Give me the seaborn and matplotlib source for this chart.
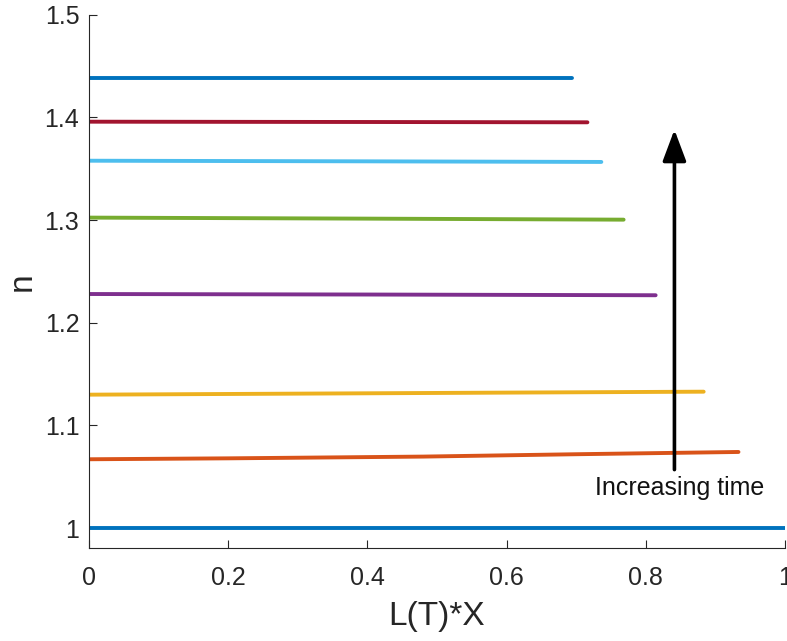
import numpy as np
import pandas as pd
import matplotlib
matplotlib.use("Agg")
import matplotlib.pyplot as plt
import seaborn as sns

# Refractive index profiles n along the normalised length L(T)*X, one per time step
x_t1 = [0.0, 0.25, 0.5, 0.75, 1.0]
n_t1 = [1.000, 1.000, 1.000, 1.000, 1.000]

x_t2 = [0.0, 0.2, 0.48, 0.7, 0.933]
n_t2 = [1.0671, 1.0680, 1.0697, 1.0720, 1.0742]

x_t3 = [0.0, 0.3, 0.6, 0.883]
n_t3 = [1.1300, 1.1310, 1.1320, 1.1329]

x_t4 = [0.0, 0.4, 0.814]
n_t4 = [1.2280, 1.2275, 1.2268]

x_t5 = [0.0, 0.4, 0.768]
n_t5 = [1.3024, 1.3014, 1.3004]

x_t6 = [0.0, 0.4, 0.736]
n_t6 = [1.3578, 1.3572, 1.3566]

x_t7 = [0.0, 0.4, 0.716]
n_t7 = [1.3958, 1.3955, 1.3952]

x_t8 = [0.0, 0.35, 0.694]
n_t8 = [1.4387, 1.4387, 1.4387]

series_x = [x_t1, x_t2, x_t3, x_t4, x_t5, x_t6, x_t7, x_t8]
series_n = [n_t1, n_t2, n_t3, n_t4, n_t5, n_t6, n_t7, n_t8]
steps = [f"t{i + 1}" for i in range(len(series_x))]

colors = ["#0072BD", "#D95319", "#EDB120", "#7E2F8E",
          "#77AC30", "#4DBEEE", "#A2142F", "#0072BD"]

arrow_x = 0.841
arrow_from = 1.057
arrow_to = 1.388
arrow_label = "Increasing time"

rows = []
for step, xs, ns in zip(steps, series_x, series_n):
    for xv, nv in zip(xs, ns):
        rows.append({"step": step, "x": xv, "n": nv})
df = pd.DataFrame(rows)

sns.set_theme(style="white")
plt.rcParams["font.family"] = ["Liberation Sans", "DejaVu Sans"]

fig = plt.figure(figsize=(7.87, 6.41), dpi=100)
ax = fig.add_axes([0.1131, 0.1451, 0.8845, 0.8320])

sns.lineplot(data=df, x="x", y="n", hue="step", palette=colors,
             linewidth=2.8, legend=False, ax=ax, estimator=None, sort=False)

ax.annotate("", xy=(arrow_x, arrow_to), xytext=(arrow_x, arrow_from),
            arrowprops=dict(arrowstyle="-|>,head_length=1.6,head_width=0.6",
                            color="black", lw=2.6, shrinkA=0, shrinkB=0))
ax.text(arrow_x + 0.008, 1.039, arrow_label, ha="center", va="center",
        fontsize=18, color="#111111")

ax.set_xlim(0, 1)
ax.set_ylim(0.9807, 1.5)
ax.set_xticks([0, 0.2, 0.4, 0.6, 0.8, 1])
ax.set_xticklabels(["0", "0.2", "0.4", "0.6", "0.8", "1"])
ax.set_yticks([1, 1.1, 1.2, 1.3, 1.4, 1.5])
ax.set_yticklabels(["1", "1.1", "1.2", "1.3", "1.4", "1.5"])

ax.set_xlabel("L(T)*X", fontsize=24, color="#262626", labelpad=8)
ax.set_ylabel("n", fontsize=24, color="#262626", labelpad=5)

ax.tick_params(direction="in", length=5.5, width=0.8, colors="#262626",
               labelsize=18, bottom=True, left=True)
ax.tick_params(axis="x", pad=13)
ax.tick_params(axis="y", pad=7)
for side in ["top", "right"]:
    ax.spines[side].set_visible(False)
for side in ["left", "bottom"]:
    ax.spines[side].set_color("#262626")
    ax.spines[side].set_linewidth(0.8)

fig.savefig("out.png", dpi=100)
